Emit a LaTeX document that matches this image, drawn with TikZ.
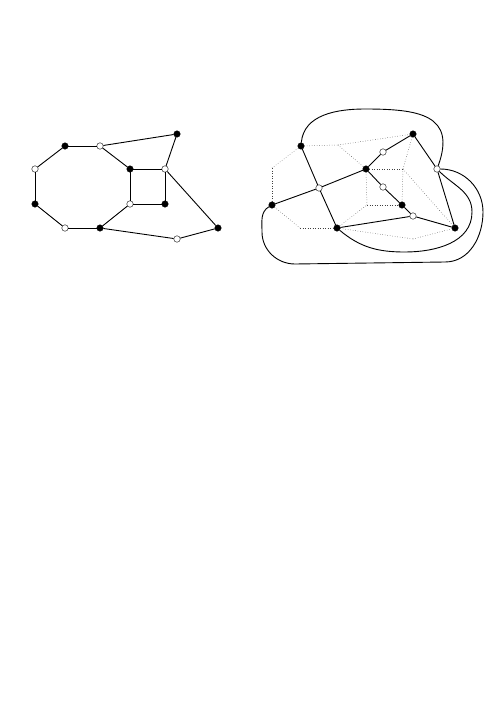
\documentclass[tikz,border=0pt]{standalone}
\usetikzlibrary{calc}
\tikzstyle{bvert} = [circle,draw,fill=black,inner sep=0pt,minimum size=6.5pt,line width=0.4pt]
\tikzstyle{wvert} = [circle,draw,fill=white,inner sep=0pt,minimum size=6.5pt,line width=0.4pt]
\tikzstyle{edge} = [line width=0.9pt]
\tikzstyle{dual} = [dotted,line width=0.5pt,black!75]

\begin{document}
\begin{tikzpicture}[x=1pt,y=1pt]
\useasboundingbox (0,0) rectangle (496,-701);

% left graph: octagon and square
\foreach \n/\x/\y in {a/65/146,c/177/134,e/130/169,g/35/204,i/165/204,k/100/228,l/218/228}{
	\node[bvert] (\n) at (\x,-\y) {};
}
\foreach \n/\x/\y in {b/100/146,d/35/169,f/165/169,h/130/204,j/65/228,m/177/239}{
	\node[wvert] (\n) at (\x,-\y) {};
}
\foreach \u/\v in {a/b,a/d,d/g,g/j,j/k,k/h,h/e,e/b,e/f,f/i,i/h,b/c,c/f,f/l,l/m,m/k}{
	\draw[edge] (\u) -- (\v);
}

% right graph
\foreach \n/\x/\y in {A/301/146,B/413/134,D/366/169,H/272/205,I/402/205,K/337/228,L/455/228}{
	\node[bvert] (\n) at (\x,-\y) {};
}
\foreach \n/\x/\y in {C/383/152,E/437/169,F/319/188,G/383/187,J/413/216}{
	\node[wvert] (\n) at (\x,-\y) {};
}

% dual (dotted)
\coordinate (p1) at (338,-145);
\coordinate (p2) at (272,-168);
\coordinate (p3) at (300,-228);
\coordinate (p4) at (367,-205);
\coordinate (p5) at (403,-169);
\coordinate (p6) at (413,-239);
\foreach \u/\v in {A/p1,p1/B,p1/D,A/p2,p2/H,H/p3,p3/K,K/p4,p4/D,p4/I,D/p5,p5/B,p5/I,p5/L,K/p6,p6/L}{
	\draw[dual] (\u) -- (\v);
}

\foreach \u/\v in {A/F,F/K,H/F,F/D,D/C,C/B,B/E,E/L,D/G,G/I,I/J,J/L,K/J}{
	\draw[edge] (\u) -- (\v);
}

\draw[edge] (A) to[out=85,in=180] (365,-109) to[out=0,in=70,looseness=1.5] (E);
\draw[edge] (E) to[out=0,in=90] (483,-212) to[out=-90,in=0] (445,-262)
	-- (295,-264) to[out=180,in=-90] (262,-232) to[out=90,in=210] (H);
\draw[edge] (E) to[out=-45,in=90] (472,-212) to[out=-90,in=0] (405,-252)
	to[out=180,in=-40] (K);
\end{tikzpicture}
\end{document}
